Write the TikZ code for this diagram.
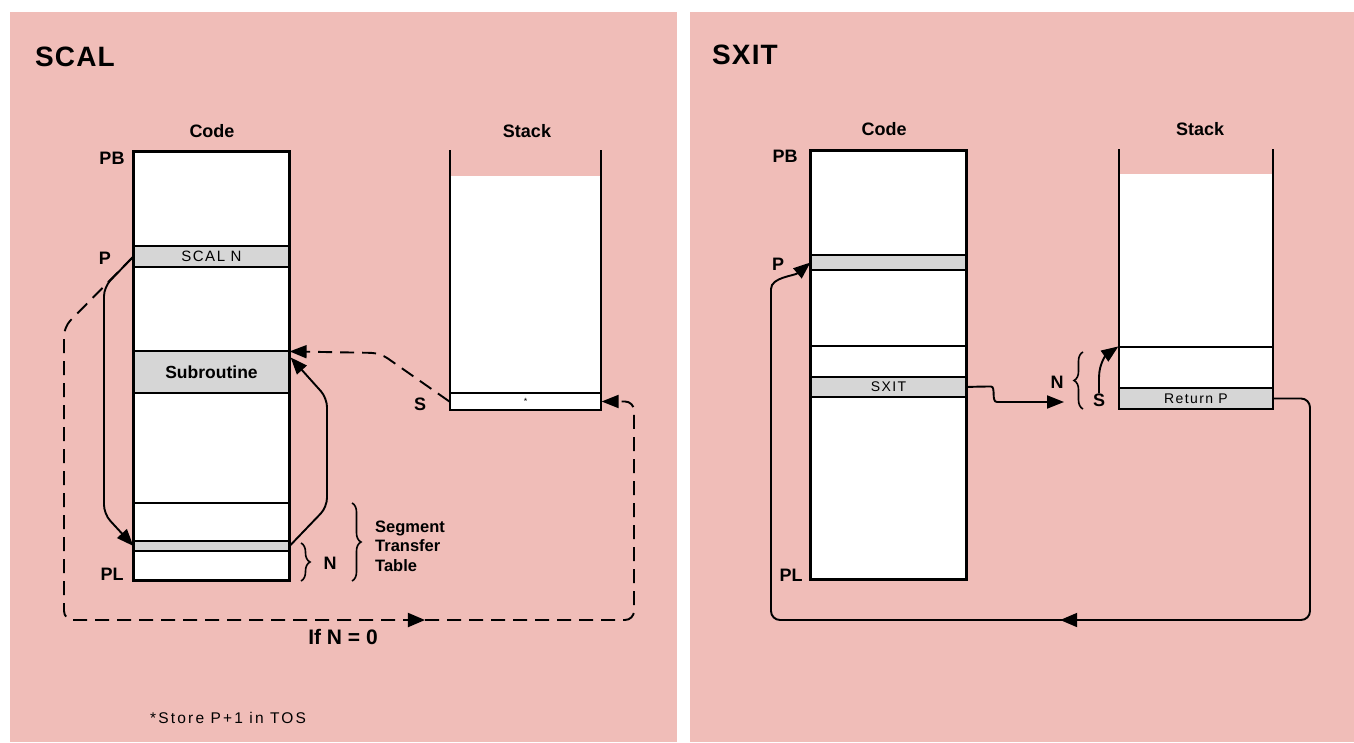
\documentclass[tikz,border=0pt]{standalone}
\usepackage{fontspec}
\setmainfont{Liberation Sans}
\newfontfamily\bandfont[LetterSpace=10]{Liberation Sans}
\newfontfamily\footfont[LetterSpace=14]{Liberation Sans}
\newfontfamily\titlefont[LetterSpace=4]{Liberation Sans}
\usetikzlibrary{arrows.meta,decorations.pathreplacing,decorations.markings,calc}
\definecolor{bgpink}{RGB}{240,189,184}
\definecolor{bandgray}{RGB}{214,214,214}
\begin{document}
\begin{tikzpicture}[x=1pt,y=-1pt,
  panel/.style={fill=bgpink},
  box/.style={line width=2.8pt, line cap=rect},
  cell/.style={draw, line width=1.2pt, fill=white, inner sep=0pt, minimum width=155pt},
  band/.style={cell, fill=bandgray},
  blank/.style={fill=white, inner sep=0pt},
  title/.style={font=\titlefont\bfseries\fontsize{28}{30}\selectfont, inner sep=0pt},
  lbl/.style={font=\bfseries\fontsize{18}{20}\selectfont, inner sep=0pt},
  bandtxt/.style={font=\bandfont\fontsize{15}{15}\selectfont},
  conn/.style={line width=1.9pt, rounded corners=9pt, -{Triangle[length=17pt,width=13pt]}},
  dconn/.style={conn, dash pattern=on 14pt off 8pt},
  brc/.style={decorate, decoration={brace, amplitude=9pt}, line width=1.6pt},
  midarrow/.style={postaction={decorate, decoration={markings,
      mark=at position #1 with {\arrow{Triangle[length=17pt,width=14pt]}}}}}
]
\useasboundingbox (0,0) rectangle (1354,742);
\fill[white] (0,0) rectangle (1354,742);
\fill[panel] (10,12) rectangle (677,742);
\fill[panel] (690,12) rectangle (1354,742);

% ================= SCAL =================
\node[title, anchor=west] (tScal) at (35,57) {SCAL};
\node[lbl] (lCodeL) at (212,131) {Code};
\node[lbl] (lStackL) at (527,131) {Stack};

\node[blank, minimum width=155pt, minimum height=428pt] (codeL) at (211.5,366) {};
\node[band, minimum height=21pt, bandtxt] (scalN) at (211.5,256.5) {SCAL N};
\node[band, minimum height=42pt, font=\bfseries\fontsize{17.5}{18}\selectfont] (subr) at (211.5,372) {Subroutine};
\node[cell, minimum height=38pt] (sttL) at (211.5,522) {};
\node[band, minimum height=10pt] (entryL) at (211.5,546) {};
\draw[box] (codeL.north west) rectangle (codeL.south east);

\node[lbl] (pbL) at (112,158) {PB};
\node[lbl] (pL) at (105,258) {P};
\node[lbl] (plL) at (112,574) {PL};

\node[blank, minimum width=151pt, minimum height=234pt] (stackL) at (525.5,293) {};
\node[cell, minimum width=151pt, minimum height=17pt, font=\fontsize{9}{9}\selectfont] (srowL) at (525.5,401.5) {*};
\draw[box] (450,151) -- (450,410) -- (601,410) -- (601,151);
\node[lbl] (sL) at (420,404) {S};

% braces
\draw[brc] (352,503) -- (352,581);
\node[anchor=west, align=left, inner sep=0pt, font=\bfseries\fontsize{16.5}{19.5}\selectfont] (sttText) at (375,546) {Segment\\Transfer\\Table};
\draw[brc] (301,543) -- (301,581);
\node[lbl] (nL) at (330,563) {N};

% connectors
\draw[conn] (scalN.west) -- (104,287) -- (104,514) -- (entryL.west);
\draw[conn] (entryL.east) -- (327,507) -- (327,398) -- ($(subr.north east)+(1,7)$);
\draw[dconn] (srowL.west) -- (380,353) -- ($(subr.north east)+(0,1)$);
\draw[dconn, midarrow=748pt] (scalN.west) -- (64,327) -- (64,620) -- (634,620) -- (634,401.5) -- (srowL.east);
\node[font=\bfseries\fontsize{21}{22}\selectfont, inner sep=0pt] (ifN) at (343,637) {If N = 0};

\node[anchor=west, inner sep=0pt, font=\footfont\fontsize{15.5}{15.5}\selectfont] (foot) at (150,718) {*Store P+1 in TOS};

% ================= SXIT =================
\node[title, anchor=west] (tSxit) at (712,55) {SXIT};
\node[lbl] (lCodeR) at (884,129) {Code};
\node[lbl] (lStackR) at (1200,129) {Stack};

\node[blank, minimum width=155pt, minimum height=428pt] (codeR) at (888.5,365) {};
\node[band, minimum height=15pt] (pbandR) at (888.5,262.5) {};
\node[cell, minimum height=31pt] (midR) at (888.5,361.5) {};
\node[band, minimum height=20pt, font=\bandfont\fontsize{14}{14}\selectfont] (sxitR) at (888.5,387) {SXIT};
\draw[box] (codeR.north west) rectangle (codeR.south east);

\node[lbl] (pbR) at (785,156) {PB};
\node[lbl] (pR) at (778,264) {P};
\node[lbl] (plR) at (791,575) {PL};

\node[blank, minimum width=154pt, minimum height=235pt] (stackR) at (1196,291.5) {};
\node[cell, minimum width=154pt, minimum height=41pt] (freeR) at (1196,367.5) {};
\node[band, minimum width=154pt, minimum height=21pt, font=\bandfont\fontsize{14}{14}\selectfont] (retP) at (1196,398.5) {Return P};
\draw[box] (1119,150) -- (1119,409) -- (1273,409) -- (1273,150);

\node[lbl] (nR) at (1057,382) {N};
\node[lbl] (sR) at (1099,400) {S};
\draw[brc] (1083,409) -- (1083,352);

\coordinate (nsR) at (1064,402);
\draw[conn] (sxitR.east) -- (982,386.5) .. controls (996,386.5) and (991,402) .. (1006,402) -- (nsR);
\draw[conn, rounded corners=0pt] (sR.north) -- ++(0,-16) to[out=90,in=215] (freeR.north west);
\draw[conn, midarrow=500pt] (retP.east) -- (1310,398.5) -- (1310,620) -- (771,620) -- (771,298) to[out=90,in=220] (pbandR.west);
\end{tikzpicture}
\end{document}
